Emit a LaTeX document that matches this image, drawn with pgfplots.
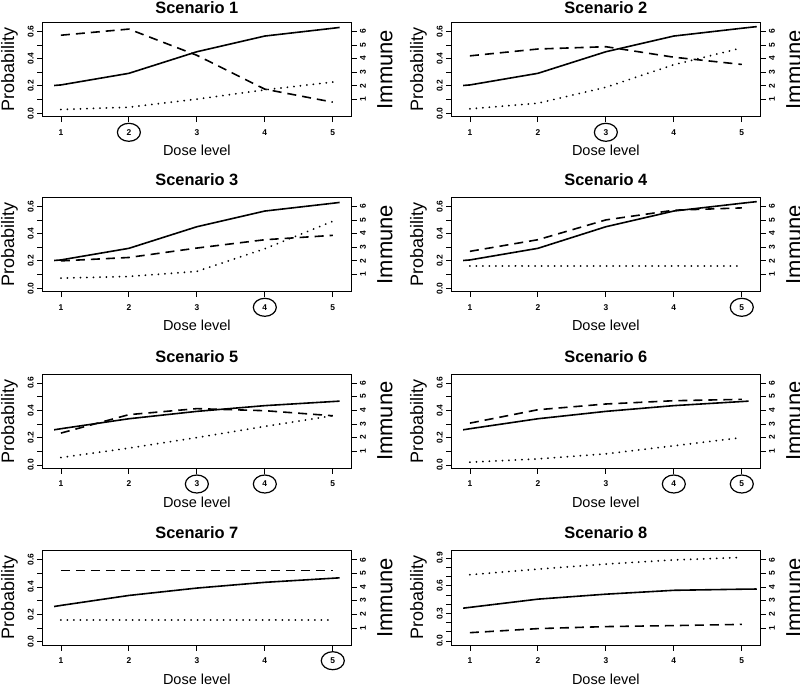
\documentclass[border=0pt]{standalone}
\usepackage{fontspec}
\setmainfont{Liberation Sans}
\usepackage{pgfplots}
\pgfplotsset{compat=1.18}
\usetikzlibrary{shapes.geometric}

\pgfplotsset{
  panel/.style={
    scale only axis, width=308.3pt, height=94.4pt, anchor=north west,
    xmin=0.732, xmax=5.268, ymin=-0.0256, ymax=0.6656,
    axis line style={line width=1pt},
    tick pos=left, tick align=outside, major tick length=5.5pt,
    tick style={line width=0.8pt, black},
    xtick={1,2,3,4,5},
    ytick={0,0.1,0.2,0.3,0.4,0.5,0.6},
    yticklabels={0.0,,0.2,,0.4,,0.6},
    tick label style={font=\bfseries\fontsize{8.4}{9}\selectfont},
    /pgf/number format/assume math mode=true,
    xticklabel style={anchor=center}, xticklabel shift=10.1pt,
    yticklabel style={rotate=90, anchor=center}, yticklabel shift=6.5pt,
    extra x tick style={tick label style={draw, ellipse, line width=1.2pt,
      minimum width=23pt, minimum height=18pt, inner sep=0pt}},
    xlabel={Dose level},
    xlabel style={font=\fontsize{14.5}{16}\selectfont,
      at={(axis description cs:0.5,0)}, anchor=base, yshift=-39pt},
    ylabel={Probability},
    ylabel style={font=\fontsize{18}{20}\selectfont,
      at={(axis description cs:-0.108,0.5)}, anchor=center},
    title style={font=\bfseries\fontsize{16.4}{18}\selectfont,
      at={(axis description cs:0.5,1)}, anchor=base, yshift=6pt},
  },
  toprow/.style={title style={yshift=-3.5pt}},
  immune/.style={
    scale only axis, width=308.3pt, height=94.4pt, anchor=north west,
    xmin=0.732, xmax=5.268, ymin=-0.256, ymax=6.656,
    axis x line=none, axis y line*=right,
    axis line style={line width=1pt},
    tick align=outside, major tick length=5.5pt,
    tick style={line width=0.8pt, black},
    ytick={1,2,3,4,5,6},
    tick label style={font=\bfseries\fontsize{8.4}{9}\selectfont},
    /pgf/number format/assume math mode=true,
    yticklabel style={rotate=90, anchor=center}, yticklabel shift=6.5pt,
    ylabel={Immune},
    ylabel style={font=\fontsize{22}{24}\selectfont,
      at={(axis description cs:1.110,0.5)}, anchor=center},
  },
  solidline/.style={black, line width=1.6pt},
  dashline/.style={black, line width=1.6pt, dash pattern=on 9pt off 6pt},
  dotline/.style={black, line width=2pt, line cap=round, dash pattern=on 0.01pt off 6.5pt},
}

\begin{document}
\begin{tikzpicture}
\useasboundingbox (0,0) rectangle (800pt,-685pt);

% Scenario 1
\begin{axis}[panel, toprow, at={(42.7pt,-22.3pt)}, title={Scenario 1}, xtick={1,3,4,5}, extra x ticks={2}]
\addplot[solidline] coordinates {(0.9,0.203) (1,0.207) (2,0.292) (3,0.450) (4,0.565) (5,0.622) (5.1,0.628)};
\addplot[dashline] coordinates {(1,0.571) (2,0.616) (3,0.424) (4,0.176) (5,0.081)};
\addplot[dotline] coordinates {(1,0.027) (2,0.044) (3,0.103) (4,0.171) (5,0.228)};
\end{axis}
\begin{axis}[immune, at={(42.7pt,-22.3pt)}]\end{axis}

% Scenario 2
\begin{axis}[panel, toprow, at={(451.7pt,-22.3pt)}, title={Scenario 2}, xtick={1,2,4,5}, extra x ticks={3}]
\addplot[solidline] coordinates {(0.9,0.203) (1,0.207) (2,0.292) (3,0.450) (4,0.565) (5,0.622) (5.22,0.634)};
\addplot[dashline] coordinates {(1,0.420) (2,0.470) (3,0.487) (4,0.410) (5,0.357)};
\addplot[dotline] coordinates {(1,0.032) (2,0.073) (3,0.190) (4,0.355) (5,0.478)};
\end{axis}
\begin{axis}[immune, at={(451.7pt,-22.3pt)}]\end{axis}

% Scenario 3
\begin{axis}[panel, at={(42.7pt,-197.3pt)}, title={Scenario 3}, xtick={1,2,3,5}, extra x ticks={4}]
\addplot[solidline] coordinates {(0.9,0.203) (1,0.207) (2,0.292) (3,0.450) (4,0.565) (5,0.622) (5.1,0.628)};
\addplot[dashline] coordinates {(1,0.200) (2,0.225) (3,0.294) (4,0.355) (5,0.387)};
\addplot[dotline] coordinates {(1,0.074) (2,0.086) (3,0.123) (4,0.289) (5,0.490)};
\end{axis}
\begin{axis}[immune, at={(42.7pt,-197.3pt)}]\end{axis}

% Scenario 4
\begin{axis}[panel, at={(451.7pt,-197.3pt)}, title={Scenario 4}, xtick={1,2,3,4}, extra x ticks={5}]
\addplot[solidline] coordinates {(0.9,0.203) (1,0.207) (2,0.292) (3,0.450) (4,0.565) (5,0.622) (5.22,0.634)};
\addplot[dashline] coordinates {(1,0.270) (2,0.355) (3,0.500) (4,0.571) (5,0.588)};
\addplot[dotline] coordinates {(1,0.160) (2,0.160) (3,0.160) (4,0.160) (5,0.160)};
\end{axis}
\begin{axis}[immune, at={(451.7pt,-197.3pt)}]\end{axis}

% Scenario 5
\begin{axis}[panel, at={(42.7pt,-374pt)}, title={Scenario 5}, xtick={1,2,5}, extra x ticks={3,4}]
\addplot[solidline] coordinates {(0.9,0.257) (1,0.265) (2,0.338) (3,0.392) (4,0.434) (5,0.464) (5.1,0.467)};
\addplot[dashline] coordinates {(1,0.233) (2,0.368) (3,0.412) (4,0.397) (5,0.360)};
\addplot[dotline] coordinates {(1,0.054) (2,0.123) (3,0.200) (4,0.282) (5,0.360)};
\end{axis}
\begin{axis}[immune, at={(42.7pt,-374pt)}]\end{axis}

% Scenario 6
\begin{axis}[panel, at={(451.7pt,-374pt)}, title={Scenario 6}, xtick={1,2,3}, extra x ticks={4,5}]
\addplot[solidline] coordinates {(0.9,0.257) (1,0.265) (2,0.338) (3,0.392) (4,0.434) (5,0.464) (5.1,0.467)};
\addplot[dashline] coordinates {(1,0.306) (2,0.404) (3,0.446) (4,0.470) (5,0.480)};
\addplot[dotline] coordinates {(1,0.020) (2,0.044) (3,0.081) (4,0.140) (5,0.200)};
\end{axis}
\begin{axis}[immune, at={(451.7pt,-374pt)}]\end{axis}

% Scenario 7
\begin{axis}[panel, at={(42.7pt,-550.7pt)}, title={Scenario 7}, xtick={1,2,3,4}, extra x ticks={5}]
\addplot[solidline] coordinates {(0.9,0.257) (1,0.265) (2,0.338) (3,0.392) (4,0.434) (5,0.464) (5.1,0.467)};
\addplot[dashline] coordinates {(1,0.522) (2,0.522) (3,0.522) (4,0.522) (5,0.522)};
\addplot[dotline] coordinates {(1,0.159) (2,0.159) (3,0.159) (4,0.159) (5,0.159)};
\end{axis}
\begin{axis}[immune, at={(42.7pt,-550.7pt)}]\end{axis}

% Scenario 8
\begin{axis}[panel, at={(451.7pt,-550.7pt)}, title={Scenario 8},
  ymin=-0.045, ymax=0.98,
  ytick={0,0.1,0.2,0.3,0.4,0.5,0.6,0.7,0.8,0.9},
  yticklabels={0.0,,,0.3,,,0.6,,,0.9}]
\addplot[solidline] coordinates {(0.9,0.356) (1,0.365) (2,0.454) (3,0.508) (4,0.550) (5,0.562) (5.22,0.564)};
\addplot[dashline] coordinates {(1,0.090) (2,0.134) (3,0.156) (4,0.167) (5,0.180)};
\addplot[dotline] coordinates {(1,0.719) (2,0.780) (3,0.835) (4,0.880) (5,0.907)};
\end{axis}
\begin{axis}[immune, at={(451.7pt,-550.7pt)}]\end{axis}

\end{tikzpicture}
\end{document}
